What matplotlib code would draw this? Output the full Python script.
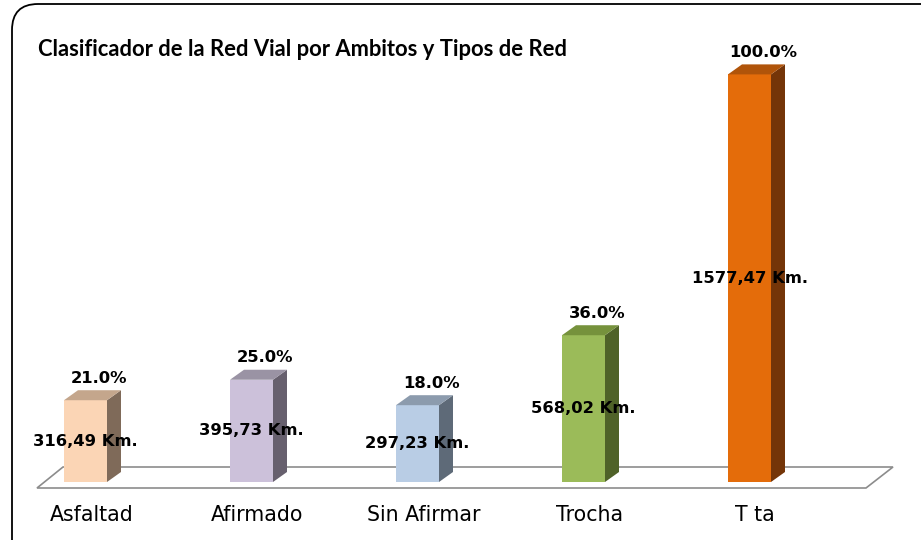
import numpy as np
import matplotlib
matplotlib.use("Agg")
import matplotlib.pyplot as plt
from matplotlib.patches import Polygon, FancyBboxPatch
from matplotlib.transforms import IdentityTransform

categories = ["Asfaltad", "Afirmado", "Sin Afirmar", "Trocha", "T ta"]
km_values = [316.49, 395.73, 297.23, 568.02, 1577.47]
km_labels = ["316,49 Km.", "395,73 Km.", "297,23 Km.", "568,02 Km.", "1577,47 Km."]
pct_labels = ["21.0%", "25.0%", "18.0%", "36.0%", "100.0%"]

front_colors = ["#FBD5B5", "#CCC1DA", "#B9CDE5", "#9BBB59", "#E46C0A"]
top_colors = ["#C4A68C", "#9A93A4", "#8C9BAD", "#76923C", "#B0540A"]
side_colors = ["#7F6A59", "#67606E", "#5E6A78", "#4F6228", "#743508"]

W, H = 921, 540
fig = plt.figure(figsize=(W / 100, H / 100), dpi=100)
ax = fig.add_axes([0, 0, 1, 1])
ax.axis("off")

# pixel layout: bar centres at 85.5 + 166*i, zero line 58 px above bottom
px_per_cat = 166.0
km_per_px = 3.87
ax.set_xlim(-85.5 / px_per_cat, (W - 85.5) / px_per_cat)
ax.set_ylim(-58 * km_per_px, (H - 58) * km_per_px)

bw = 43 / px_per_cat
dx = 14 / px_per_cat
dy = 10 * km_per_px

# floor
fx0, fx1 = (37 - 85.5) / px_per_cat, (866 - 85.5) / px_per_cat
floor = Polygon([(fx0, -6 * km_per_px), (fx1, -6 * km_per_px),
                 (fx1 + 27 / px_per_cat, 15 * km_per_px), (fx0 + 26 / px_per_cat, 15 * km_per_px)],
                closed=True, facecolor="white", edgecolor="#8c8c8c", lw=1.2, zorder=1)
ax.add_patch(floor)

x = np.arange(len(categories))
ax.bar(x, km_values, width=bw, color=front_colors, zorder=3)
for i, v in enumerate(km_values):
    l, r = x[i] - bw / 2, x[i] + bw / 2
    ax.add_patch(Polygon([(r, 0), (r + dx, dy), (r + dx, v + dy), (r, v)],
                         closed=True, facecolor=side_colors[i], edgecolor="none", zorder=3))
    ax.add_patch(Polygon([(l, v), (l + dx, v + dy), (r + dx, v + dy), (r, v)],
                         closed=True, facecolor=top_colors[i], edgecolor="none", zorder=3))
    ax.text(x[i], v / 2, km_labels[i], ha="center", va="center", fontsize=11.8,
            fontweight="bold", family="DejaVu Sans", zorder=5)
    ax.text(x[i] + dx, v + dy + 12 * km_per_px, pct_labels[i], ha="center", va="center",
            fontsize=11.8, fontweight="bold", family="DejaVu Sans", zorder=5)
    ax.text(x[i] + 0.035, -33 * km_per_px, categories[i], ha="center", va="center",
            fontsize=14.8, family="DejaVu Sans", zorder=5)

# rounded chart border
border = FancyBboxPatch((12, -30), 940, 566, boxstyle="round,pad=0,rounding_size=26",
                        transform=IdentityTransform(), facecolor="none",
                        edgecolor="black", lw=1.3)
fig.patches.append(border)

fig.text(38 / W, 1 - 50 / H, "Clasificador de la Red Vial por Ambitos y Tipos de Red",
         ha="left", va="center", fontsize=15.8, fontweight="bold", family="Lato")

fig.savefig("out.png", dpi=100)
